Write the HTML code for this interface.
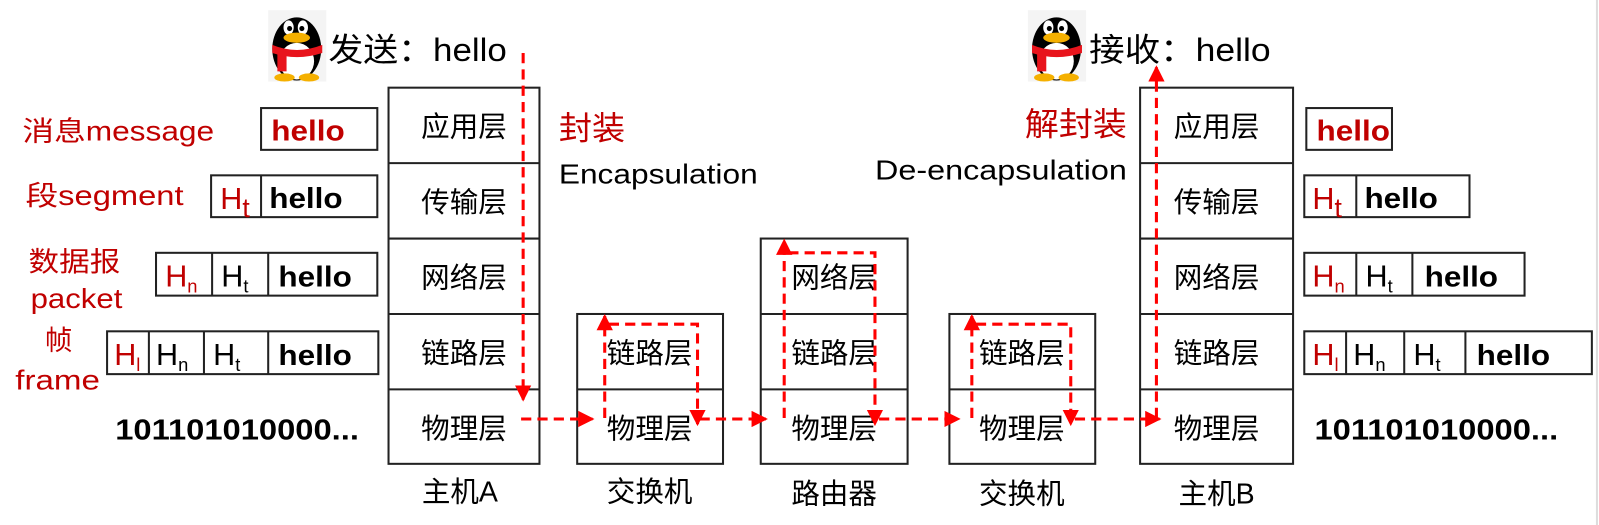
<!DOCTYPE html>
<html><head><meta charset="utf-8"><style>
html,body{margin:0;padding:0;background:#fff;}
svg{display:block;font-family:"Liberation Sans","Noto Sans CJK SC",sans-serif;}
</style></head><body>
<svg width="1599" height="525" viewBox="0 0 1568 515" preserveAspectRatio="none" xmlns="http://www.w3.org/2000/svg">
<defs>
<marker id="ah2" markerWidth="16" markerHeight="16" refX="14" refY="8" orient="auto" markerUnits="userSpaceOnUse"><path d="M0,0 L16,8 L0,16 z" fill="#ff0000"/></marker>
<g id="peng">
<rect x="0" y="0" width="57" height="70" fill="#f4f4f4"/>
<ellipse cx="28" cy="38" rx="24" ry="31" fill="#000"/>
<ellipse cx="28" cy="50" rx="17" ry="18" fill="#fff"/>
<ellipse cx="20" cy="17" rx="5" ry="7" fill="#fff"/><ellipse cx="34" cy="17" rx="5" ry="7" fill="#fff"/>
<circle cx="21" cy="18" r="2.5" fill="#000"/><circle cx="33" cy="18" r="2.5" fill="#000"/>
<ellipse cx="28" cy="27" rx="13" ry="5" fill="#f5b000"/>
<path d="M4,34 Q28,44 53,34 L53,42 Q28,50 4,42 z" fill="#e8141c"/>
<rect x="9" y="40" width="9" height="20" fill="#e8141c"/>
<ellipse cx="16" cy="66" rx="10" ry="4" fill="#f5b000"/><ellipse cx="40" cy="66" rx="10" ry="4" fill="#f5b000"/>
</g>
</defs>
<line x1="1566" y1="0" x2="1566" y2="515" stroke="#ddd" stroke-width="2"/>
<use href="#peng" x="263" y="10"/>
<use href="#peng" x="1008" y="10"/>
<text x="322" y="60" font-size="32" textLength="175" lengthAdjust="spacingAndGlyphs">发送：hello</text>
<text x="1068" y="60" font-size="32" textLength="178" lengthAdjust="spacingAndGlyphs">接收：hello</text>

<g fill="none" stroke="#222" stroke-width="2">
<rect x="381" y="86" width="148" height="369"/>
<line x1="381" y1="160" x2="529" y2="160"/><line x1="381" y1="234" x2="529" y2="234"/><line x1="381" y1="308" x2="529" y2="308"/><line x1="381" y1="382" x2="529" y2="382"/>
<rect x="566" y="308" width="143" height="147"/><line x1="566" y1="382" x2="709" y2="382"/>
<rect x="746" y="234" width="144" height="221"/><line x1="746" y1="308" x2="890" y2="308"/><line x1="746" y1="382" x2="890" y2="382"/>
<rect x="931" y="308" width="143" height="147"/><line x1="931" y1="382" x2="1074" y2="382"/>
<rect x="1118" y="86" width="150" height="369"/>
<line x1="1118" y1="160" x2="1268" y2="160"/><line x1="1118" y1="234" x2="1268" y2="234"/><line x1="1118" y1="308" x2="1268" y2="308"/><line x1="1118" y1="382" x2="1268" y2="382"/>
<rect x="256" y="106" width="114" height="41"/>
<rect x="207" y="172" width="163" height="41"/><line x1="256" y1="172" x2="256" y2="213"/>
<rect x="153" y="248" width="217" height="42"/><line x1="208" y1="248" x2="208" y2="290"/><line x1="263" y1="248" x2="263" y2="290"/>
<rect x="105" y="325" width="266" height="42"/><line x1="146" y1="325" x2="146" y2="367"/><line x1="200" y1="325" x2="200" y2="367"/><line x1="263" y1="325" x2="263" y2="367"/>
<rect x="1281" y="106" width="84" height="41"/>
<rect x="1279" y="172" width="162" height="41"/><line x1="1330" y1="172" x2="1330" y2="213"/>
<rect x="1279" y="248" width="216" height="42"/><line x1="1330" y1="248" x2="1330" y2="290"/><line x1="1385" y1="248" x2="1385" y2="290"/>
<rect x="1279" y="325" width="282" height="42"/><line x1="1320" y1="325" x2="1320" y2="367"/><line x1="1377" y1="325" x2="1377" y2="367"/><line x1="1437" y1="325" x2="1437" y2="367"/>
</g>

<g font-size="28" fill="#000" text-anchor="middle">
<text x="455" y="134">应用层</text><text x="455" y="208">传输层</text><text x="455" y="282">网络层</text><text x="455" y="356">链路层</text><text x="455" y="430">物理层</text>
<text x="637" y="356">链路层</text><text x="637" y="430">物理层</text>
<text x="818" y="282">网络层</text><text x="818" y="356">链路层</text><text x="818" y="430">物理层</text>
<text x="1002" y="356">链路层</text><text x="1002" y="430">物理层</text>
<text x="1193" y="134">应用层</text><text x="1193" y="208">传输层</text><text x="1193" y="282">网络层</text><text x="1193" y="356">链路层</text><text x="1193" y="430">物理层</text>
<text x="451" y="492">主机A</text><text x="637" y="492">交换机</text><text x="818" y="494">路由器</text><text x="1002" y="494">交换机</text><text x="1193" y="494">主机B</text>
</g>

<g font-size="27" fill="#c00000">
<text x="22" y="138" textLength="188" lengthAdjust="spacingAndGlyphs">消息message</text>
<text x="25" y="201" textLength="155" lengthAdjust="spacingAndGlyphs">段segment</text>
<text x="28" y="266" textLength="90" lengthAdjust="spacingAndGlyphs">数据报</text>
<text x="30" y="302" textLength="90" lengthAdjust="spacingAndGlyphs">packet</text>
<text x="44" y="343">帧</text>
<text x="15" y="382" textLength="83" lengthAdjust="spacingAndGlyphs">frame</text>
<text x="548" y="137" font-size="32" textLength="65" lengthAdjust="spacingAndGlyphs">封装</text>
<text x="1005" y="133" font-size="32" textLength="100" lengthAdjust="spacingAndGlyphs">解封装</text>
</g>
<text x="548" y="180" font-size="27" fill="#000" textLength="195" lengthAdjust="spacingAndGlyphs">Encapsulation</text>
<text x="858" y="176" font-size="27" fill="#000" textLength="247" lengthAdjust="spacingAndGlyphs">De-encapsulation</text>

<g font-size="28" font-weight="bold" fill="#000">
<text x="266" y="138" fill="#c00000" textLength="72" lengthAdjust="spacingAndGlyphs">hello</text>
<text x="264" y="204" textLength="72" lengthAdjust="spacingAndGlyphs">hello</text>
<text x="273" y="281" textLength="72" lengthAdjust="spacingAndGlyphs">hello</text>
<text x="273" y="358" textLength="72" lengthAdjust="spacingAndGlyphs">hello</text>
<text x="113" y="431" textLength="239" lengthAdjust="spacingAndGlyphs">101101010000...</text>
<text x="1291" y="138" fill="#c00000" textLength="72" lengthAdjust="spacingAndGlyphs">hello</text>
<text x="1338" y="204" textLength="72" lengthAdjust="spacingAndGlyphs">hello</text>
<text x="1397" y="281" textLength="72" lengthAdjust="spacingAndGlyphs">hello</text>
<text x="1448" y="358" textLength="72" lengthAdjust="spacingAndGlyphs">hello</text>
<text x="1289" y="431" textLength="239" lengthAdjust="spacingAndGlyphs">101101010000...</text>
</g>
<g font-size="30" fill="#000">
<text x="216" y="205" fill="#c00000">H<tspan font-size="26" dy="8">t</tspan></text>
<text x="162" y="281" fill="#c00000">H<tspan font-size="18" dy="6">n</tspan></text>
<text x="217" y="281">H<tspan font-size="18" dy="6">t</tspan></text>
<text x="112" y="358" fill="#c00000">H<tspan font-size="18" dy="6">l</tspan></text>
<text x="153" y="358">H<tspan font-size="18" dy="6">n</tspan></text>
<text x="209" y="358">H<tspan font-size="18" dy="6">t</tspan></text>
<text x="1287" y="205" fill="#c00000">H<tspan font-size="26" dy="8">t</tspan></text>
<text x="1287" y="281" fill="#c00000">H<tspan font-size="18" dy="6">n</tspan></text>
<text x="1339" y="281">H<tspan font-size="18" dy="6">t</tspan></text>
<text x="1287" y="358" fill="#c00000">H<tspan font-size="18" dy="6">l</tspan></text>
<text x="1327" y="358">H<tspan font-size="18" dy="6">n</tspan></text>
<text x="1386" y="358">H<tspan font-size="18" dy="6">t</tspan></text>
</g>

<g fill="none" stroke="#ff0000" stroke-width="3" stroke-dasharray="10,6">
<path d="M513,52 L513,392" marker-end="url(#ah2)"/>
<path d="M511,411 L581,411" marker-end="url(#ah2)"/>
<path d="M593,410 L593,310" marker-end="url(#ah2)"/>
<path d="M597,318 L684,318 L684,416" marker-end="url(#ah2)"/>
<path d="M686,411 L751,411" marker-end="url(#ah2)"/>
<path d="M769,410 L769,236" marker-end="url(#ah2)"/>
<path d="M773,248 L858,248 L858,416" marker-end="url(#ah2)"/>
<path d="M862,411 L940,411" marker-end="url(#ah2)"/>
<path d="M953,410 L953,310" marker-end="url(#ah2)"/>
<path d="M957,318 L1050,318 L1050,416" marker-end="url(#ah2)"/>
<path d="M1054,411 L1137,411" marker-end="url(#ah2)"/>
<path d="M1134,410 L1134,66" marker-end="url(#ah2)"/>
</g>
</svg>
</body></html>
